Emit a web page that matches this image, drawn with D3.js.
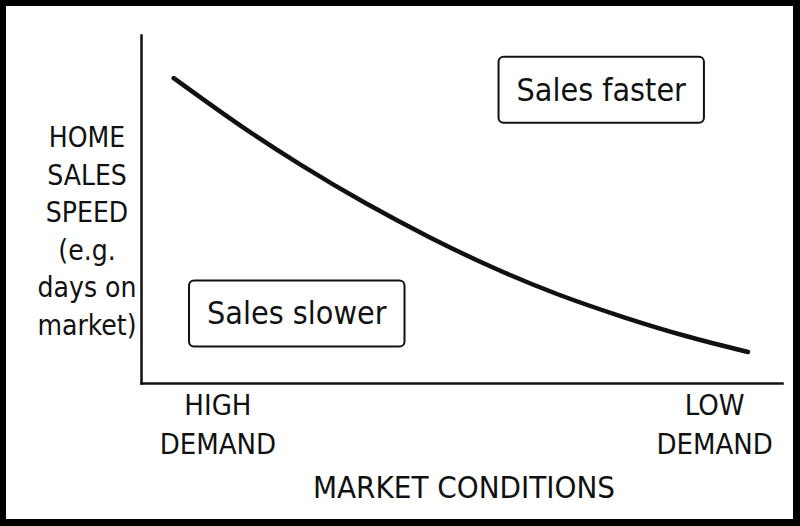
<!DOCTYPE html>
<html>
<head>
<meta charset="utf-8">
<script src="https://cdn.jsdelivr.net/npm/d3@7"></script>
<style>
  body { margin: 0; background: #000; }
  svg { display: block; }
  text { font-family: "DejaVu Sans Condensed", "DejaVu Sans", sans-serif; font-stretch: condensed; fill: #111; }
</style>
</head>
<body>
<svg width="800" height="526"></svg>
<script>
// demand index (0 = high demand, 100 = low demand) vs sales speed (0..100)
var demand = [5.1, 15, 25, 35, 45, 55, 65, 75, 85, 94.7];
var speed  = [87.6, 74.6, 62.6, 51.7, 41.9, 33.1, 25.5, 19.1, 13.5, 8.9];

var demandTicks = [12, 89.5];
var demandLabels = [["HIGH", "DEMAND"], ["LOW", "DEMAND"]];
var xTitle = "MARKET CONDITIONS";
var yTitleLines = ["HOME", "SALES", "SPEED", "(e.g.", "days on", "market)"];
var regionLabels = ["Sales slower", "Sales faster"];

const svg = d3.select("svg"),
  width = +svg.attr("width"),
  height = +svg.attr("height");

// black frame, white page
svg.append("rect")
  .attr("x", 6).attr("y", 6)
  .attr("width", width - 13).attr("height", height - 13)
  .attr("fill", "#fff");

var x = d3.scaleLinear().domain([0, 100]).range([141, 782]);
var y = d3.scaleLinear().domain([0, 100]).range([383, 35]);

var g = svg.append("g");

g.append("g")
  .attr("transform", "translate(0," + y(0) + ")")
  .call(d3.axisBottom(x).tickValues([]).tickSizeOuter(0))
  .select(".domain")
    .attr("stroke", "#111")
    .attr("stroke-width", 2.5)
    .attr("stroke-linecap", "square");

g.append("g")
  .attr("transform", "translate(" + x(0) + ",0)")
  .call(d3.axisLeft(y).tickValues([]).tickSizeOuter(0))
  .select(".domain")
    .attr("stroke", "#111")
    .attr("stroke-width", 2.5)
    .attr("stroke-linecap", "square");

// curve
var pts = demand.map(function(d, i) { return [d, speed[i]]; });
var line = d3.line()
  .x(function(d) { return x(d[0]); })
  .y(function(d) { return y(d[1]); })
  .curve(d3.curveNatural);

g.append("path")
  .datum(pts)
  .attr("d", line)
  .attr("fill", "none")
  .attr("stroke", "#111")
  .attr("stroke-width", 4.5)
  .attr("stroke-linecap", "round");

// category labels under the x axis
var cat = g.selectAll(".cat")
  .data(demandTicks)
  .enter().append("text")
  .attr("class", "cat")
  .attr("text-anchor", "middle")
  .style("font-size", "29px");

cat.selectAll("tspan")
  .data(function(d, i) { return demandLabels[i].map(function(t) { return { t: t, x: x(d) }; }); })
  .enter().append("tspan")
  .attr("x", function(d) { return d.x; })
  .attr("y", function(d, j) { return 415 + j * 38.5; })
  .text(function(d) { return d.t; });

g.append("text")
  .attr("x", 464)
  .attr("y", 498)
  .attr("text-anchor", "middle")
  .style("font-size", "31px")
  .text(xTitle);

// y title, stacked
g.append("text")
  .attr("text-anchor", "middle")
  .style("font-size", "28px")
  .selectAll("tspan")
  .data(yTitleLines)
  .enter().append("tspan")
  .attr("x", 87)
  .attr("y", function(d, i) { return 147 + i * 37.6; })
  .text(function(d) { return d; });

// boxed region labels
var boxPos = [[24.3, 20.0], [71.8, 84.3]];
regionLabels.forEach(function(label, i) {
  var cx = x(boxPos[i][0]), cy = y(boxPos[i][1]);
  var bg = g.append("g");
  var rect = bg.append("rect");
  var t = bg.append("text")
    .attr("x", cx)
    .attr("y", cy + 11)
    .attr("text-anchor", "middle")
    .style("font-size", "32px")
    .text(label);
  var w = t.node().getComputedTextLength() + 36;
  rect.attr("x", cx - w / 2)
    .attr("y", cy - 33)
    .attr("width", w)
    .attr("height", 66)
    .attr("rx", 5)
    .attr("fill", "#fff")
    .attr("stroke", "#111")
    .attr("stroke-width", 2);
});
</script>
</body>
</html>
